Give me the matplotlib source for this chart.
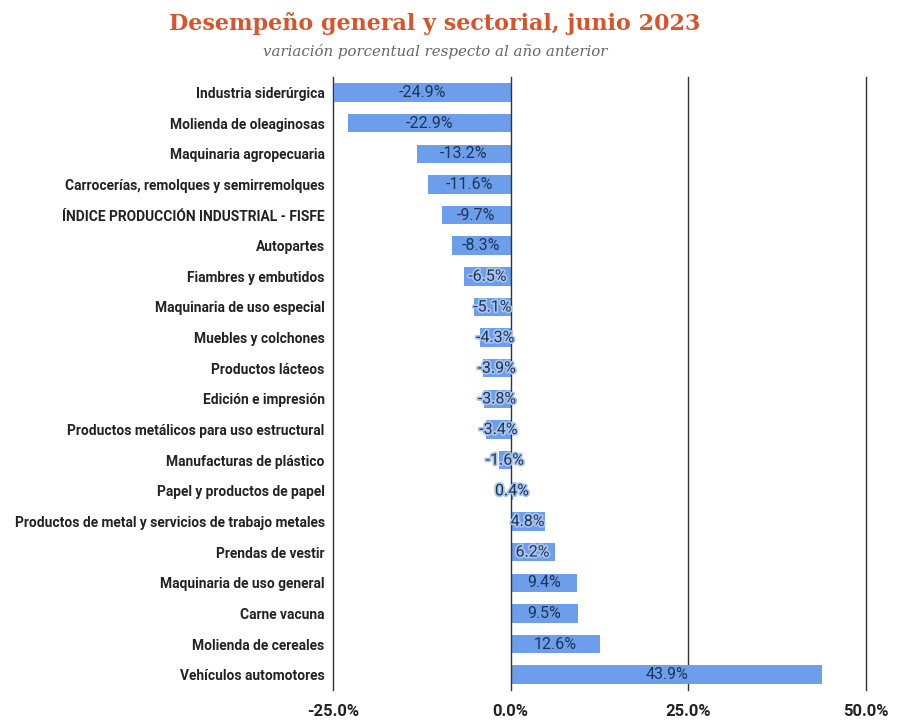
import matplotlib.pyplot as plt
from matplotlib import patheffects as pe

categories = [
    "Industria siderúrgica",
    "Molienda de oleaginosas",
    "Maquinaria agropecuaria",
    "Carrocerías, remolques y semirremolques",
    "ÍNDICE PRODUCCIÓN INDUSTRIAL - FISFE",
    "Autopartes",
    "Fiambres y embutidos",
    "Maquinaria de uso especial",
    "Muebles y colchones",
    "Productos lácteos",
    "Edición e impresión",
    "Productos metálicos para uso estructural",
    "Manufacturas de plástico",
    "Papel y productos de papel",
    "Productos de metal y servicios de trabajo metales",
    "Prendas de vestir",
    "Maquinaria de uso general",
    "Carne vacuna",
    "Molienda de cereales",
    "Vehículos automotores",
]
values = [-24.9, -22.9, -13.2, -11.6, -9.7, -8.3, -6.5, -5.1, -4.3, -3.9,
          -3.8, -3.4, -1.6, 0.4, 4.8, 6.2, 9.4, 9.5, 12.6, 43.9]
xticks = [-25, 0, 25, 50]
xticklabels = ["-25.0%", "0.0%", "25.0%", "50.0%"]

sans = ["Roboto", "DejaVu Sans"]

fig = plt.figure(figsize=(9, 7.21), dpi=100)
ax = fig.add_axes([0.37, 0.043, 0.592, 0.85])

ypos = list(range(len(categories)))
ax.barh(ypos, values, height=0.6, color="#6d9eeb", zorder=2)
for v in xticks:
    ax.axvline(v, color="#333333", lw=1.0, zorder=1 if v != 0 else 3,
               clip_on=False)

for y, v in zip(ypos, values):
    t = ax.text(v / 2, y, f"{v:.1f}%", ha="center", va="center",
                fontsize=11.5, color="#1c3553", family=sans, zorder=4)
    if abs(v) < 7:
        t.set_path_effects([pe.withStroke(linewidth=2.5, foreground="#a9c4ef")])

ax.set_xlim(-25, 50)
ax.set_ylim(len(categories) - 0.5, -0.5)
ax.set_yticks(ypos)
ax.set_yticklabels(categories, fontsize=9.9, fontweight="bold", family=sans,
                   color="#222222")
ax.set_xticks(xticks)
ax.set_xticklabels(xticklabels, fontsize=12, fontweight="bold", family=sans,
                   color="#222222")
ax.tick_params(length=0, axis="y", pad=6)
ax.tick_params(length=0, axis="x", pad=10)
for s in ax.spines.values():
    s.set_visible(False)

fig.text(0.483, 0.967, "Desempeño general y sectorial, junio 2023", ha="center",
         va="center", fontsize=16, fontweight="bold", color="#d9542b",
         family=["DejaVu Serif"])
fig.text(0.483, 0.929, "variación porcentual respecto al año anterior", ha="center",
         va="center", fontsize=10.8, style="italic", color="#666666",
         family=["DejaVu Serif"])

fig.savefig("out.png", dpi=100, facecolor="white")
